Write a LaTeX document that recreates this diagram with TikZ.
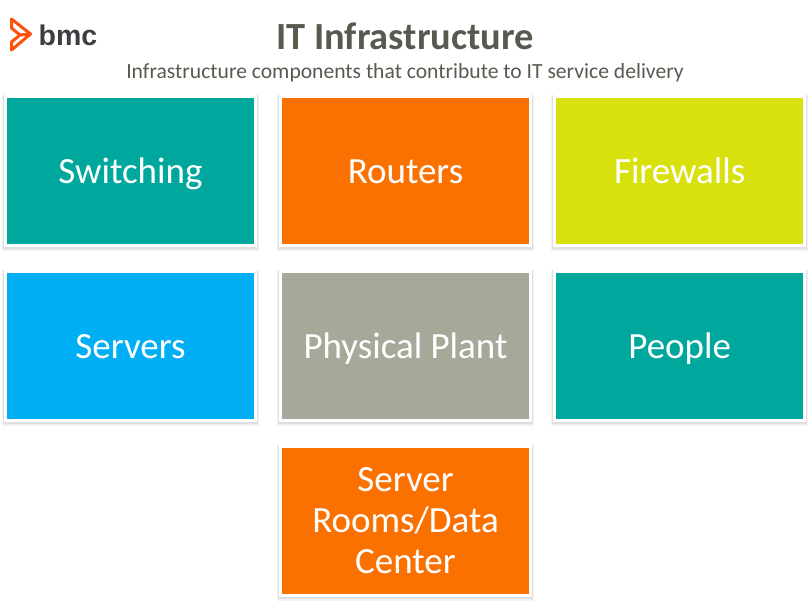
\documentclass[tikz,border=0pt]{standalone}
\usepackage{fontspec}
\setmainfont{Carlito}
\newfontfamily\logofont{Liberation Sans}
\usetikzlibrary{shadows}
\definecolor{teal1}{RGB}{0,167,157}
\definecolor{orange1}{RGB}{251,113,0}
\definecolor{lime1}{RGB}{216,225,12}
\definecolor{blue1}{RGB}{0,175,243}
\definecolor{gray1}{RGB}{167,168,153}
\definecolor{titlegray}{RGB}{89,89,80}
\definecolor{logoorange}{RGB}{253,80,10}
\definecolor{logogray}{RGB}{62,62,66}
\tikzset{
  tile/.style={draw=white,line width=3pt,minimum width=250pt,minimum height=149pt,
    text=white,font=\fontsize{37}{41}\selectfont,align=center,
    general shadow={shadow xshift=0pt,shadow yshift=-1.5pt,opacity=.05,fill=black,draw=black,line width=7pt},
    general shadow={shadow xshift=0pt,shadow yshift=-1pt,opacity=.08,fill=black,draw=black,line width=5pt}},
  oneline/.style={text height=24pt,text depth=0pt}
}
\begin{document}
\begin{tikzpicture}[x=1pt,y=-1pt]
\useasboundingbox (0,0) rectangle (810,611);
\node (title) at (405,36) {\fontsize{38.4}{42}\selectfont\bfseries\color{titlegray}IT Infrastructure};
\node (subtitle) at (405,72.5) {\fontsize{21.6}{24}\selectfont\color{titlegray}Infrastructure components that contribute to IT service delivery};
\node [tile,oneline,fill=teal1] (switching) at (130.5,171) {Switching};
\node [tile,oneline,fill=orange1] (routers) at (405.5,171) {Routers};
\node [tile,oneline,fill=lime1] (firewalls) at (679.7,171) {Firewalls};
\node [tile,oneline,fill=blue1] (servers) at (130.5,346) {Servers};
\node [tile,oneline,fill=gray1] (plant) at (405.5,346) {Physical Plant};
\node [tile,oneline,fill=teal1] (people) at (679.7,346) {People};
\node [tile,fill=orange1] (rooms) at (405.5,521) {Server\\Rooms/Data\\Center\rule[-2pt]{0pt}{2pt}};
% logo
\draw [logoorange,line width=3pt,line join=round] (11.5,19) -- (30.5,34) -- (11.5,50) -- (11.5,42) -- (20,35) -- (11.5,28) -- cycle;
\draw [logoorange,line width=3pt] (20,35) -- (30.5,34);
\node [anchor=base] (bmc) at (68,45) {\fontsize{28.5}{32}\logofont\bfseries\color{logogray}bmc};
\end{tikzpicture}
\end{document}
